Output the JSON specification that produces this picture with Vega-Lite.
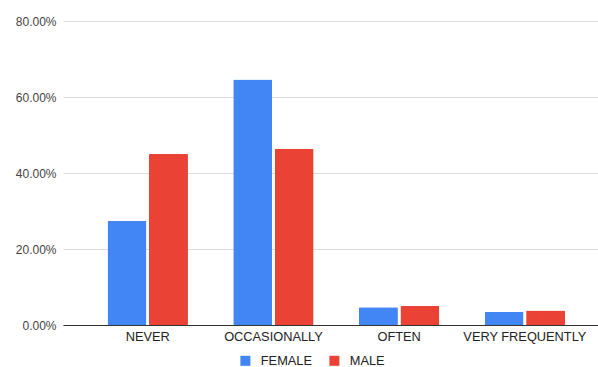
{
  "$schema": "https://vega.github.io/schema/vega-lite/v6.json",
  "width": 535,
  "height": 304,
  "autosize": {"type": "none"},
  "padding": {"left": 63, "top": 21, "right": 0, "bottom": 42},
  "background": "white",
  "config": {
    "font": "Liberation Sans",
    "view": {"stroke": null},
    "axis": {"labelFont": "Liberation Sans", "labelFontSize": 12}
  },
  "data": {
    "values": [
      {"frequency": "NEVER", "sex": "FEMALE", "share": 0.274},
      {"frequency": "NEVER", "sex": "MALE", "share": 0.450},
      {"frequency": "OCCASIONALLY", "sex": "FEMALE", "share": 0.646},
      {"frequency": "OCCASIONALLY", "sex": "MALE", "share": 0.464},
      {"frequency": "OFTEN", "sex": "FEMALE", "share": 0.047},
      {"frequency": "OFTEN", "sex": "MALE", "share": 0.050},
      {"frequency": "VERY FREQUENTLY", "sex": "FEMALE", "share": 0.035},
      {"frequency": "VERY FREQUENTLY", "sex": "MALE", "share": 0.038}
    ]
  },
  "mark": {"type": "bar", "cornerRadius": 1},
  "encoding": {
    "x": {
      "field": "frequency",
      "type": "nominal",
      "sort": ["NEVER", "OCCASIONALLY", "OFTEN", "VERY FREQUENTLY"],
      "title": null,
      "scale": {"paddingInner": 0.36, "paddingOuter": 0.308, "align": 0.575},
      "axis": {
        "labelAngle": 0,
        "ticks": false,
        "domainColor": "#333333",
        "domainWidth": 1,
        "labelColor": "#222222",
        "labelFontSize": 12.8,
        "labelPadding": 5
      }
    },
    "xOffset": {
      "field": "sex",
      "type": "nominal",
      "scale": {"paddingInner": 0.06, "paddingOuter": 0}
    },
    "y": {
      "field": "share",
      "type": "quantitative",
      "title": null,
      "scale": {"domain": [0, 0.8]},
      "axis": {
        "format": ".2%",
        "values": [0, 0.2, 0.4, 0.6, 0.8],
        "domain": false,
        "ticks": false,
        "gridColor": "#dddddd",
        "labelColor": "#444444",
        "labelPadding": 7
      }
    },
    "color": {
      "field": "sex",
      "type": "nominal",
      "scale": {"domain": ["FEMALE", "MALE"], "range": ["#4285F4", "#EA4335"]},
      "legend": {
        "orient": "none",
        "legendX": 176,
        "legendY": 333,
        "padding": 0,
        "direction": "horizontal",
        "title": null,
        "symbolType": "square",
        "symbolSize": 100,
        "symbolStrokeWidth": 0,
        "labelFontSize": 12.8,
        "labelOffset": 9,
        "labelColor": "#222222",
        "columnPadding": 15
      }
    }
  }
}
